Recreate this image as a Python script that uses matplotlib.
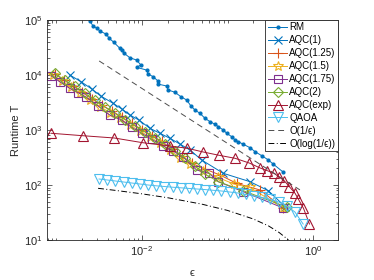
import numpy as np
import matplotlib
matplotlib.use("Agg")
import matplotlib.pyplot as plt
from matplotlib.ticker import LogLocator, NullFormatter

plt.rcParams['font.family'] = ['Liberation Sans', 'DejaVu Sans']
plt.rcParams['mathtext.fontset'] = 'custom'
plt.rcParams['mathtext.rm'] = 'Liberation Sans'
plt.rcParams['mathtext.it'] = 'Liberation Sans:italic'
plt.rcParams['mathtext.default'] = 'regular'

# ---------------- data ----------------
rm_eps = [0.00247, 0.00269, 0.00300, 0.00323, 0.00386, 0.00415, 0.00471, 0.00553, 0.00579,
          0.00621, 0.00724, 0.00867, 0.00973, 0.00867, 0.01135, 0.01186, 0.01355, 0.01528,
          0.01528, 0.01945, 0.02032, 0.02432, 0.02858, 0.03334, 0.03741, 0.04169, 0.04764,
          0.05458, 0.06237, 0.07145, 0.0780, 0.0893, 0.098, 0.112, 0.1225, 0.1337, 0.153,
          0.183, 0.210, 0.251, 0.300, 0.344, 0.446]
rm_T = [95900, 77800, 70600, 63100, 55000, 46500, 39300, 30600, 28500,
        24800, 20600, 18700, 15200, 13800, 12300, 10400, 9310, 7870,
        6860, 6310, 5340, 4850, 4030, 3510, 2730, 2310, 2010,
        1630, 1420, 1270, 1150, 1000, 871, 755, 658, 613, 550,
        477, 403, 341, 285, 238, 172]

aqc1_eps = [0.00144, 0.00197, 0.0026, 0.00331, 0.00461, 0.00583, 0.00724, 0.00923, 0.0124,
            0.01626, 0.02125, 0.0278, 0.0364, 0.0499, 0.0893, 0.183, 0.300, 0.470]
aqc1_T = [10000, 7460, 5560, 4150, 3060, 2410, 1875, 1520, 1074,
          871, 706, 556, 433, 285, 163, 115, 78.7, 40.3]

aqc125_eps = [0.00096, 0.001225, 0.00156, 0.001987, 0.0026, 0.0034, 0.00446, 0.00583, 0.00764,
              0.0100, 0.0131, 0.01714, 0.02244, 0.02937, 0.0381, 0.0546, 0.0817, 0.128, 0.240, 0.446]
aqc125_T = [10430, 8110, 6310, 4910, 3660, 2850, 2220, 1720, 1313,
            1021, 794, 618, 451, 337, 248, 195, 152, 107, 81.1, 38.2]

aqc15_eps = [0.00091, 0.00116, 0.00148, 0.00188, 0.00247, 0.00323, 0.00422, 0.00553, 0.00724,
             0.00948, 0.0124, 0.01626, 0.02125, 0.0278, 0.0364, 0.0516, 0.0774, 0.119, 0.183, 0.446]
aqc15_T = [10000, 7780, 5930, 4610, 3510, 2670, 2080, 1620, 1233,
           959, 746, 580, 424, 316, 236, 180, 137, 104, 90.1, 38.2]

aqc175_eps = [0.000879, 0.0011, 0.00144, 0.0018, 0.002255, 0.00308, 0.00422, 0.00579, 0.00758,
              0.00991, 0.01297, 0.01774, 0.02305, 0.0302, 0.0436, 0.0612, 0.078, 0.153, 0.446]
aqc175_T = [9590, 7550, 5730, 4770, 3930, 2730, 1875, 1520, 1120,
            871, 678, 512, 415, 323, 187, 163, 115, 75.5, 38.2]

aqc2_eps = [0.00096, 0.001256, 0.001644, 0.002153, 0.00282, 0.00369, 0.00483, 0.00632, 0.00828,
            0.01084, 0.0142, 0.01857, 0.0243, 0.0318, 0.0417, 0.0546, 0.078, 0.153, 0.50]
aqc2_T = [10650, 8110, 6180, 4710, 3510, 2620, 2000, 1552, 1183,
          920, 716, 545, 415, 310, 221, 158, 115, 78.7, 39.3]

aqcexp_eps = [0.000879, 0.002056, 0.00474, 0.01019, 0.02125, 0.0340, 0.0521, 0.0796, 0.1225,
              0.1794, 0.240, 0.292, 0.350, 0.404, 0.458, 0.528, 0.615, 0.673, 0.771, 0.906]
aqcexp_T = [871, 787, 716, 588, 512, 465, 398, 347, 306,
            251, 204, 182, 163, 138, 120, 93.1, 70.6, 55.0, 37.7, 19.5]

qaoa_eps = [0.00316, 0.00394, 0.00491, 0.00611, 0.00761, 0.00947, 0.0118, 0.0147, 0.0183,
            0.0228, 0.0284, 0.0353, 0.0440, 0.0548, 0.0683, 0.0850, 0.106, 0.132, 0.164,
            0.205, 0.255, 0.317, 0.395, 0.492, 0.612, 0.764]
qaoa_T = [128.5, 123.3, 118.2, 113.4, 108.7, 104.3, 100.0, 96.7, 93.9,
          91.2, 88.9, 86.7, 84.6, 82.5, 80.1, 77.8, 74.6, 71.5, 67.2,
          63.1, 59.3, 54.5, 49.1, 41.5, 32.3, 19.5]

inv_eps = [0.00317, 0.70]
inv_T = [18000, 81.5]

log_eps = [0.00308, 0.005, 0.01, 0.02, 0.05, 0.1, 0.2, 0.3, 0.4, 0.5, 0.6, 0.7]
log_T = [87.1, 79.5, 69.1, 58.7, 44.9, 34.5, 24.1, 18.1, 13.7, 10.4, 7.7, 5.35]

labels = ['RM', 'AQC(1)', 'AQC(1.25)', 'AQC(1.5)', 'AQC(1.75)', 'AQC(2)', 'AQC(exp)', 'QAOA',
          'O(1/ϵ)', 'O(log(1/ϵ))']

# ---------------- plot ----------------
c_blue = (0, 0.447, 0.741)
c_orange = (0.85, 0.325, 0.098)
c_yellow = (0.929, 0.694, 0.125)
c_purple = (0.494, 0.184, 0.556)
c_green = (0.466, 0.674, 0.188)
c_lblue = (0.301, 0.745, 0.933)
c_red = (0.635, 0.078, 0.184)

fig = plt.figure(figsize=(3.74, 2.8), dpi=100)
ax = fig.add_axes([47/374, 40/280, 291/374, 220/280])

lw = 0.7
mew = 0.8
ax.plot(rm_eps, rm_T, '-', marker='.', color=c_blue, lw=lw, ms=4, label=labels[0])
ax.plot(aqc1_eps, aqc1_T, '-', marker='x', color=c_blue, lw=lw, ms=6, mew=mew, label=labels[1])
ax.plot(aqc125_eps, aqc125_T, '-', marker='+', color=c_orange, lw=lw, ms=7, mew=mew, label=labels[2])
ax.plot(aqc15_eps, aqc15_T, '-', marker='*', color=c_yellow, lw=lw, ms=7, mew=mew,
        mfc='none', label=labels[3])
ax.plot(aqc175_eps, aqc175_T, '-', marker='s', color=c_purple, lw=lw, ms=6, mew=mew,
        mfc='none', label=labels[4])
ax.plot(aqc2_eps, aqc2_T, '-', marker='D', color=c_green, lw=lw, ms=5.5, mew=mew,
        mfc='none', label=labels[5])
ax.plot(aqcexp_eps, aqcexp_T, '-', marker='^', color=c_red, lw=lw, ms=7.5, mew=mew,
        mfc='none', label=labels[6])
ax.plot(qaoa_eps, qaoa_T, '-', marker='v', color=c_lblue, lw=lw, ms=6.5, mew=mew,
        mfc='none', label=labels[7])
ax.plot(inv_eps, inv_T, '--', color='0.3', lw=lw, dashes=(6, 4), label=labels[8])
ax.plot(log_eps, log_T, '-.', color='k', lw=lw, dashes=(6, 2.5, 1, 2.5), label=labels[9])

ax.set_xscale('log')
ax.set_yscale('log')
ax.set_xlim(7.8e-4, 1.95)
ax.set_ylim(10, 1e5)
ax.set_xticks([1e-2, 1e0])
ax.xaxis.set_minor_locator(LogLocator(base=10, subs=np.arange(1, 10), numticks=20))
ax.xaxis.set_minor_formatter(NullFormatter())
ax.yaxis.set_major_locator(LogLocator(base=10, numticks=10))
ax.yaxis.set_minor_locator(LogLocator(base=10, subs=np.arange(2, 10), numticks=20))
ax.yaxis.set_minor_formatter(NullFormatter())

ax.tick_params(which='both', direction='in', top=True, right=True, labelsize=8,
               color='0.15', labelcolor='0.15', width=0.5)
ax.tick_params(which='major', length=3.5, pad=3)
ax.tick_params(which='minor', length=1.8)
for s in ax.spines.values():
    s.set_linewidth(0.6)
    s.set_color('0.15')

ax.set_xlabel('ϵ', fontsize=8, color='0.15', labelpad=7)
ax.set_ylabel('Runtime T', fontsize=8, color='0.15', labelpad=2)

leg = ax.legend(loc='upper right', bbox_to_anchor=(1, 1), borderaxespad=0, fontsize=7,
                labelspacing=0.3, handlelength=2.0, handletextpad=0.2, borderpad=0.25,
                fancybox=False, framealpha=1, edgecolor='0.15')
leg.get_frame().set_linewidth(0.6)

fig.savefig('out.png', dpi=100)
